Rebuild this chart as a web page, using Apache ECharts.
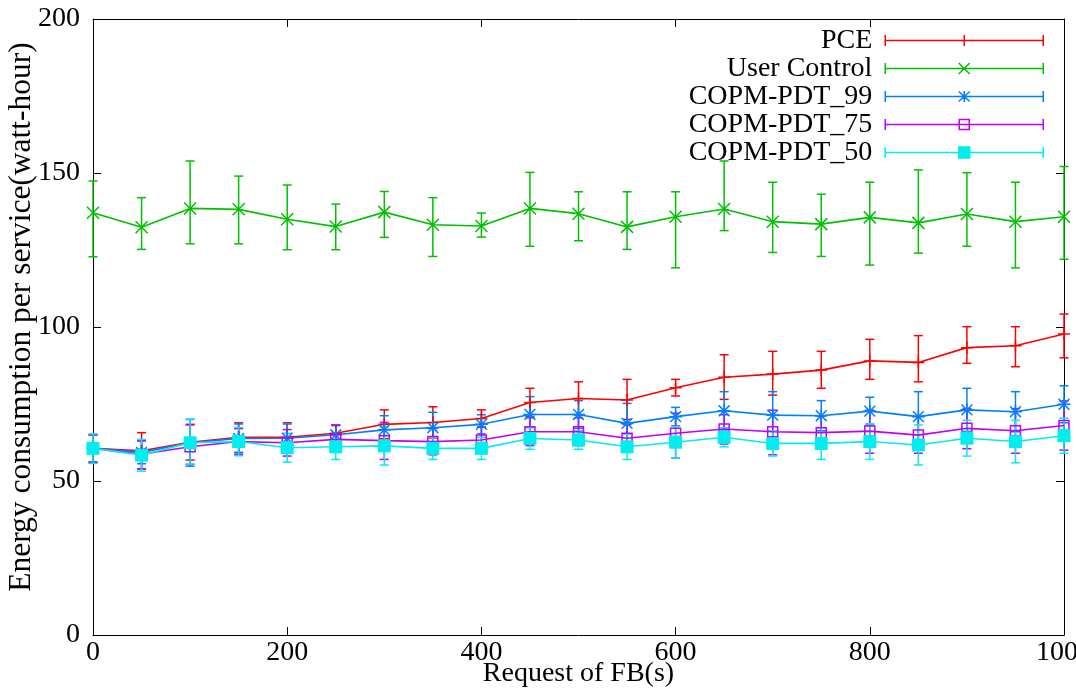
<!DOCTYPE html>
<html>
<head>
<meta charset="utf-8">
<script src="https://cdn.jsdelivr.net/npm/echarts@6/dist/echarts.min.js"></script>
<style>
html,body{margin:0;padding:0;background:#fff;}
#chart{width:1076px;height:690px;}
</style>
</head>
<body>
<div id="chart"></div>
<script>
// ---- data ----
const xValues = [0,50,100,150,200,250,300,350,400,450,500,550,600,650,700,750,800,850,900,950,1000];
const seriesNames = ['PCE','User Control','COPM-PDT_99','COPM-PDT_75','COPM-PDT_50'];

const pceMean = [60.6,59.8,62.6,64.2,64.2,65.5,68.4,69.0,70.3,75.5,76.8,76.3,80.3,83.7,84.7,86.0,89.0,88.5,93.3,93.9,97.7];
const pceLow  = [56.0,53.9,56.8,59.3,59.5,62.5,63.7,64.0,67.5,70.9,71.4,70.0,77.6,76.5,77.9,80.1,83.0,82.2,88.2,87.1,90.0];
const pceHigh = [65.0,65.7,68.4,68.9,68.9,68.2,73.1,74.1,73.1,80.1,82.2,83.0,83.0,91.0,92.1,92.1,96.0,97.2,100.1,100.1,104.2];

const ucMean = [137.1,132.4,138.5,138.2,135.0,132.6,137.3,133.2,132.8,138.5,136.8,132.5,135.8,138.3,134.2,133.4,135.6,133.8,136.7,134.2,135.8];
const ucLow  = [122.8,125.2,127.0,127.0,125.1,125.1,129.1,122.9,129.2,126.2,128.0,125.2,119.2,131.3,124.2,122.9,120.1,124.0,126.2,119.2,122.0];
const ucHigh = [147.4,142.0,153.9,149.0,146.1,139.9,144.0,142.0,137.0,150.2,143.9,143.9,143.9,153.9,147.0,143.1,147.0,151.0,150.1,147.0,152.1];

const p99Mean = [60.6,59.3,62.4,63.8,63.9,65.0,66.6,67.3,68.4,71.6,71.6,68.7,70.9,72.8,71.4,71.2,72.7,70.9,73.1,72.5,74.9];
const p99Low  = [56.2,55.6,54.8,59.1,59.3,61.8,62.0,62.3,65.3,65.8,67.1,62.2,67.9,66.6,63.8,66.3,68.2,62.8,66.1,66.0,68.9];
const p99High = [65.0,63.0,70.0,68.5,68.5,68.2,71.2,72.3,71.5,77.4,76.1,75.2,73.9,79.0,79.0,76.1,77.2,79.0,80.1,79.0,80.9];

const p75Mean = [60.6,58.7,61.1,62.8,62.4,63.5,63.1,62.8,63.3,66.0,66.0,63.9,65.5,66.9,66.0,65.7,66.2,64.9,67.1,66.3,68.0];
const p75Low  = [56.0,54.0,55.4,58.5,58.1,59.5,57.0,58.5,59.0,61.5,61.5,59.5,57.5,62.0,58.5,60.5,59.0,59.0,60.5,59.0,60.0];
const p75High = [65.0,63.1,68.2,67.0,66.7,68.0,69.0,67.0,67.5,70.5,70.5,68.3,72.0,71.5,73.0,71.0,73.0,71.0,73.5,73.5,76.0];

const p50Mean = [60.6,58.4,62.4,62.8,60.8,61.1,61.4,60.6,60.6,63.8,63.3,61.1,62.6,64.2,62.2,62.2,62.8,61.7,63.9,62.8,64.7];
const p50Low  = [55.7,53.2,55.5,58.2,56.1,57.0,55.2,57.0,57.0,60.3,60.3,57.0,57.5,61.1,58.1,57.0,57.0,55.2,58.1,55.9,59.0];
const p50High = [65.3,63.5,70.1,67.4,65.5,65.2,67.6,64.2,64.2,67.3,66.3,65.2,67.7,67.3,66.3,67.4,68.6,68.2,69.7,69.7,70.4];

// ---- styles ----
const FONT = 'Liberation Serif';
const colors = ['#ff0000','#00c000','#0080ff','#c000ff','#00eeee'];
const means = [pceMean, ucMean, p99Mean, p75Mean, p50Mean];
const lows = [pceLow, ucLow, p99Low, p75Low, p50Low];
const highs = [pceHigh, ucHigh, p99High, p75High, p50High];

const markerSymbols = [
  'path://M6,0L6,12M0,6L12,6',
  'path://M0,0L12,12M12,0L0,12',
  'path://M6,0L6,12M0,6L12,6M1,1L11,11M11,1L1,11',
  'path://M0,0L10,0L10,10L0,10Z',
  'rect'
];
const markerSizes = [12, 12, 13, 10, 13];
const markerFill = ['transparent','transparent','transparent','transparent','#00eeee'];
const markerBorder = [1.5,1.5,1.5,1.5,0];

const capBase = 'M0,0L0,11M158,0L158,11M0,5.5L158,5.5';
const legendIcons = [
  'path://' + capBase + 'M79,0L79,11',
  'path://' + capBase + 'M73.5,0L84.5,11M84.5,0L73.5,11',
  'path://' + capBase + 'M79,0L79,11M73.5,0.5L84.5,10.5M84.5,0.5L73.5,10.5',
  'path://' + capBase + 'M74,0.5L84,0.5L84,10.5L74,10.5Z',
  'path://' + capBase + 'M73.5,0L84.5,0L84.5,11L73.5,11Z'
];
const legendFill = ['transparent','transparent','transparent','transparent','#00eeee'];

function errRenderer(color) {
  return function (params, api) {
    const x = api.value(0), lo = api.value(1), hi = api.value(2);
    const a = api.coord([x, lo]);
    const b = api.coord([x, hi]);
    const w = 4.5;
    const st = { stroke: color, lineWidth: 1.5 };
    return {
      type: 'group',
      children: [
        { type: 'line', shape: { x1: a[0], y1: a[1], x2: b[0], y2: b[1] }, style: st },
        { type: 'line', shape: { x1: a[0] - w, y1: a[1], x2: a[0] + w, y2: a[1] }, style: st },
        { type: 'line', shape: { x1: b[0] - w, y1: b[1], x2: b[0] + w, y2: b[1] }, style: st }
      ]
    };
  };
}

const series = [];
seriesNames.forEach(function (name, k) {
  series.push({
    name: name + ' error',
    type: 'custom',
    renderItem: errRenderer(colors[k]),
    encode: { x: 0, y: [1, 2] },
    data: xValues.map(function (x, i) { return [x, lows[k][i], highs[k][i]]; }),
    silent: true,
    clip: false
  });
  series.push({
    name: name,
    type: 'line',
    data: xValues.map(function (x, i) { return [x, means[k][i]]; }),
    symbol: markerSymbols[k],
    symbolSize: markerSizes[k],
    showAllSymbol: true,
    lineStyle: { color: colors[k], width: 1.6 },
    itemStyle: { color: markerFill[k], borderColor: colors[k], borderWidth: markerBorder[k] },
    emphasis: { disabled: true },
    clip: false
  });
});

const axisCommon = {
  axisLine: { show: true, onZero: false, lineStyle: { color: '#000', width: 1 } },
  axisTick: { show: true, inside: true, length: 8, lineStyle: { color: '#000', width: 1 } },
  splitLine: { show: false }
};

const chart = echarts.init(document.getElementById('chart'), null, { renderer: 'canvas' });
chart.setOption({
  animation: false,
  backgroundColor: '#ffffff',
  grid: { left: 93, right: 12, top: 19, bottom: 55, containLabel: false, outerBoundsMode: 'none' },
  legend: {
    orient: 'vertical',
    right: 32,
    top: 26.5,
    align: 'right',
    itemWidth: 158,
    itemHeight: 11,
    itemGap: 0,
    padding: 0,
    selectedMode: false,
    textStyle: { fontFamily: FONT, fontSize: 28, lineHeight: 27, color: '#000', padding: [0, 8, 0, 0] },
    data: seriesNames.map(function (n, i) {
      return { name: n, icon: legendIcons[i], itemStyle: { color: legendFill[i], borderColor: colors[i], borderWidth: 1.5 } };
    })
  },
  xAxis: [
    Object.assign({}, axisCommon, {
      type: 'value', min: 0, max: 1000, interval: 200, position: 'bottom',
      axisLabel: { fontFamily: FONT, fontSize: 28, color: '#000', margin: 4, showMaxLabel: true, showMinLabel: true,
        formatter: function (v) { return String(v); } },
      name: 'Request of FB(s)', nameLocation: 'middle', nameGap: 25, nameMoveOverlap: false,
      nameTextStyle: { fontFamily: FONT, fontSize: 28, color: '#000' }
    }),
    Object.assign({}, axisCommon, {
      type: 'value', min: 0, max: 1000, interval: 200, position: 'top',
      axisLabel: { show: false }
    })
  ],
  yAxis: [
    Object.assign({}, axisCommon, {
      type: 'value', min: 0, max: 200, interval: 50, position: 'left',
      axisLabel: { fontFamily: FONT, fontSize: 28, color: '#000', margin: 13 },
      name: 'Energy consumption per service(watt-hour)', nameLocation: 'middle', nameGap: 55, nameMoveOverlap: false,
      nameTextStyle: { fontFamily: FONT, fontSize: 31.5, color: '#000', padding: [0, 0, 0, 20] }
    }),
    Object.assign({}, axisCommon, {
      type: 'value', min: 0, max: 200, interval: 50, position: 'right',
      axisLabel: { show: false }
    })
  ],
  series: series
});
</script>
</body>
</html>
